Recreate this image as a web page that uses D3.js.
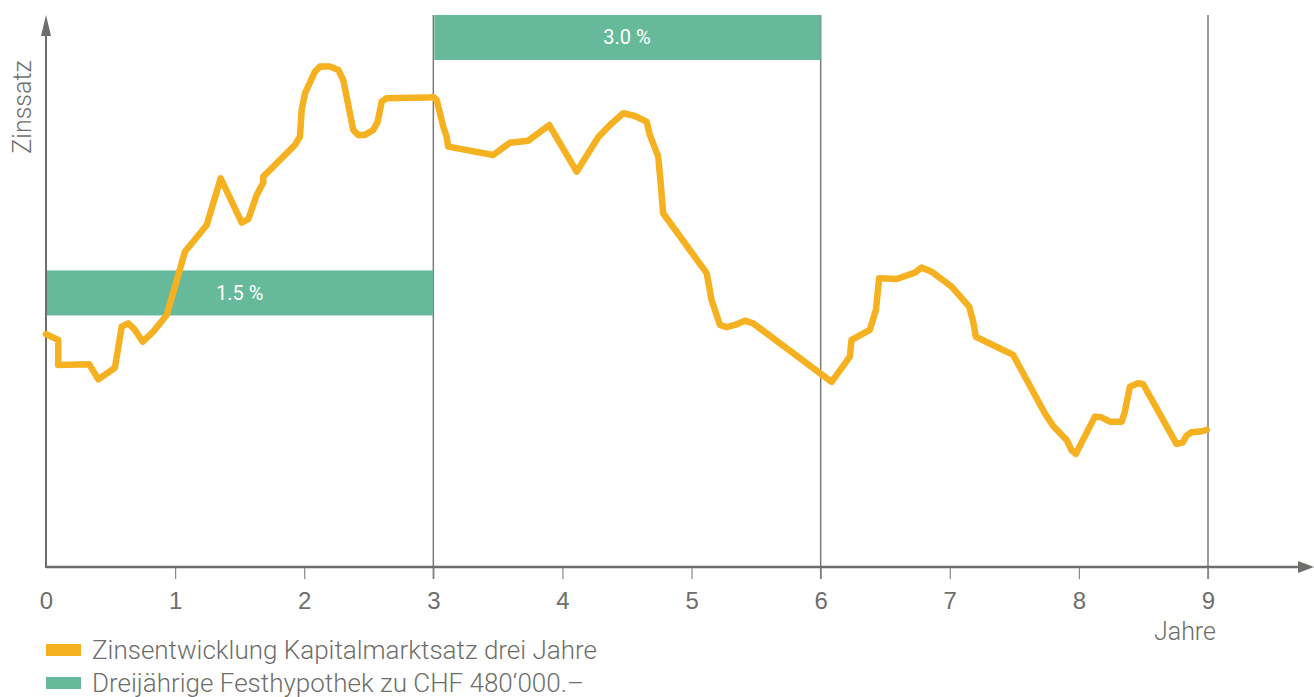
<!DOCTYPE html>
<html lang="de">
<head>
  <meta charset="UTF-8">
  <title>Zinsentwicklung</title>
  <script src="https://d3js.org/d3.v7.min.js"></script>
  <style>
    body { margin: 0; background: #fff; }
    svg { display: block; font-family: Roboto, "Liberation Sans", sans-serif; font-weight: 300; }
    .lbl { fill: #6e6e6b; font-size: 24px; }
  </style>
</head>
<body>
  <svg width="1314" height="697"></svg>

  <script>
    // Jahre (x) und Zinssatz in % (y) der Kapitalmarktkurve
    const years = [0, 0.095, 0.095, 0.335, 0.405, 0.534, 0.586, 0.637, 0.689, 0.749,
      0.831, 0.935, 0.999, 1.076, 1.245, 1.353, 1.516, 1.567, 1.632, 1.683,
      1.683, 1.928, 1.967, 1.980, 2.006, 2.083, 2.122, 2.199, 2.264, 2.302,
      2.380, 2.418, 2.470, 2.535, 2.569, 2.600, 2.638, 2.961, 2.999, 3.026,
      3.077, 3.103, 3.115, 3.464, 3.593, 3.735, 3.898, 4.110, 4.277, 4.368,
      4.471, 4.561, 4.652, 4.677, 4.742, 4.760, 4.780, 5.117, 5.155, 5.220,
      5.271, 5.336, 5.413, 5.477, 5.994, 6.085, 6.226, 6.239, 6.381, 6.428,
      6.453, 6.588, 6.730, 6.781, 6.859, 7.014, 7.150, 7.181, 7.202, 7.491,
      7.736, 7.801, 7.905, 7.943, 7.976, 8.124, 8.175, 8.240, 8.331, 8.356,
      8.395, 8.459, 8.498, 8.756, 8.803, 8.834, 8.872, 8.937, 8.990];
    const rates = [1.258, 1.224, 1.077, 1.081, 0.993, 1.061, 1.302, 1.322, 1.283, 1.214,
      1.273, 1.371, 1.537, 1.742, 1.899, 2.173, 1.913, 1.933, 2.075, 2.148,
      2.183, 2.369, 2.418, 2.574, 2.672, 2.799, 2.829, 2.829, 2.809, 2.751,
      2.457, 2.428, 2.428, 2.457, 2.506, 2.623, 2.643, 2.647, 2.651, 2.633,
      2.476, 2.418, 2.359, 2.310, 2.382, 2.394, 2.486, 2.212, 2.414, 2.486,
      2.555, 2.539, 2.506, 2.428, 2.300, 2.153, 1.968, 1.616, 1.459, 1.312,
      1.299, 1.312, 1.337, 1.322, 1.029, 0.978, 1.126, 1.224, 1.283, 1.400,
      1.586, 1.582, 1.619, 1.649, 1.625, 1.537, 1.420, 1.332, 1.243, 1.136,
      0.794, 0.719, 0.637, 0.578, 0.555, 0.774, 0.770, 0.744, 0.744, 0.803,
      0.950, 0.970, 0.964, 0.614, 0.621, 0.662, 0.682, 0.686, 0.696];

    // Festhypotheken: Laufzeit (von, bis) und Satz
    const mortStart = [0, 3];
    const mortEnd = [3, 6];
    const mortRate = [1.5, 3.0];
    const mortLabels = ["1.5 %", "3.0 %"];

    const xTicks = [0, 1, 2, 3, 4, 5, 6, 7, 8, 9];
    const gridYears = [3, 6, 9];
    const legendLabels = ["Zinsentwicklung Kapitalmarktsatz drei Jahre",
                          "Dreijährige Festhypothek zu CHF 480‘000.–"];

    const orange = "#f6b121", green = "#66ba9b", grey = "#6e6e6b";

    const svg = d3.select("svg");
    const x = d3.scaleLinear().domain([0, 9]).range([46, 1208]);
    const y = d3.scaleLinear().domain([-0.109, 3.132]).range([567, 15]);
    const barH = 45;

    // vertical period lines
    svg.append("g").selectAll("line").data(gridYears).join("line")
      .attr("x1", d => x(d)).attr("x2", d => x(d))
      .attr("y1", y.range()[1]).attr("y2", 579)
      .attr("stroke", "#7a7a78").attr("stroke-width", 1.5);

    // mortgage bars
    const bars = svg.append("g").selectAll("g").data(mortRate).join("g");
    bars.append("rect")
      .attr("x", (d, i) => x(mortStart[i]) + 1)
      .attr("width", (d, i) => x(mortEnd[i]) - x(mortStart[i]) - 1)
      .attr("y", d => y(d) - barH / 2)
      .attr("height", barH)
      .attr("fill", green);
    bars.append("text")
      .attr("x", (d, i) => (x(mortStart[i]) + x(mortEnd[i])) / 2)
      .attr("y", d => y(d) + 7)
      .attr("text-anchor", "middle")
      .attr("fill", "#fff")
      .style("font-size", "20px")
      .style("font-weight", 400)
      .text((d, i) => mortLabels[i]);

    // x axis
    const xAxis = svg.append("g").attr("transform", "translate(0,567)")
      .call(d3.axisBottom(x).tickValues(xTicks).tickSize(12).tickFormat(d3.format("d")));
    xAxis.select(".domain").remove();
    xAxis.selectAll(".tick line").attr("stroke", "#8a8a88").attr("stroke-width", 1.2)
      .attr("opacity", d => d === 0 ? 0 : 1);
    xAxis.selectAll(".tick text").attr("class", "lbl").attr("dy", null).attr("y", 42)
      .style("font-family", null);

    // axis lines with arrows
    svg.append("line").attr("x1", 46).attr("x2", 1300).attr("y1", 567).attr("y2", 567)
      .attr("stroke", grey).attr("stroke-width", 2.5);
    svg.append("path").attr("d", "M1298,561L1314,567L1298,573Z").attr("fill", grey);
    svg.append("line").attr("x1", 46).attr("x2", 46).attr("y1", 568).attr("y2", 30)
      .attr("stroke", grey).attr("stroke-width", 2);
    svg.append("path").attr("d", "M41,36L46,15L51,36Z").attr("fill", grey);

    // rate line
    const line = d3.line().x(d => x(d[0])).y(d => y(d[1]));
    svg.append("path")
      .datum(years.map((d, i) => [d, rates[i]]))
      .attr("d", line)
      .attr("fill", "none")
      .attr("stroke", orange)
      .attr("stroke-width", 6.5)
      .attr("stroke-linejoin", "round")
      .attr("stroke-linecap", "round");

    // axis titles
    svg.append("text").attr("class", "lbl")
      .attr("transform", "translate(31,107) rotate(-90)")
      .attr("text-anchor", "middle").style("font-size", "25px").text("Zinssatz");
    svg.append("text").attr("class", "lbl")
      .attr("x", 1216).attr("y", 640).attr("text-anchor", "end")
      .style("font-size", "25px").text("Jahre");

    // legend
    const leg = svg.append("g").selectAll("g").data(legendLabels).join("g")
      .attr("transform", (d, i) => `translate(46,${650 + i * 33})`);
    leg.append("rect").attr("x", 0).attr("y", -6).attr("width", 35).attr("height", 12)
      .attr("fill", (d, i) => i === 0 ? orange : green);
    leg.append("text").attr("class", "lbl").attr("x", 46).attr("y", 9)
      .style("font-size", "26px").text(d => d);
  </script>
</body>
</html>
